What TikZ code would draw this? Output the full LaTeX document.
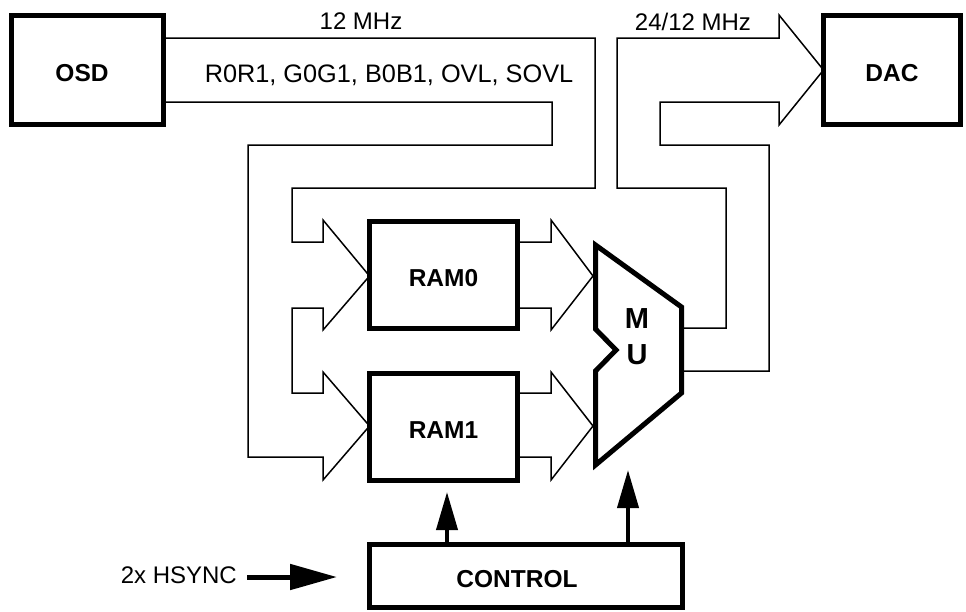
\documentclass[tikz,border=0pt]{standalone}
\usepackage{fontspec}
\setmainfont{Liberation Sans}
\usetikzlibrary{arrows.meta}
\begin{document}
\begin{tikzpicture}[x=1pt,y=-1pt,
  box/.style={draw, line width=5pt, outer sep=0pt, inner sep=0pt,
    font=\fontsize{24.5}{28}\selectfont\bfseries, text height=22pt, text depth=0pt},
  bus/.style={line width=1.5pt, line join=miter},
  lbl/.style={font=\fontsize{24}{28}\selectfont, inner sep=0pt, anchor=base},
  blbl/.style={font=\fontsize{29}{32}\selectfont\bfseries, inner sep=0pt, anchor=base},
  ctrlarrow/.style={line width=4pt, -{Triangle[length=38pt,width=21pt]}},
  muxline/.style={line width=5pt, line join=miter}]
\useasboundingbox (0,0) rectangle (966,611);

% boxes
\node[box, minimum width=152pt, minimum height=109pt] (osd) at (87.5,70) {OSD\hspace*{11pt}};
\node[box, minimum width=137pt, minimum height=109pt] (dac) at (892,70) {DAC};
\node[box, minimum width=148pt, minimum height=107pt] (ram0) at (443.5,275) {RAM0};
\node[box, minimum width=148pt, minimum height=107pt] (ram1) at (443.5,427) {RAM1};
\node[box, minimum width=313pt, minimum height=63pt] (control) at (526,576) {CONTROL\hspace*{18pt}};

% multiplexer
\draw[muxline] (595.5,245) coordinate (muxtl) -- (681.5,307) -- (681.5,393) -- (595.5,465)
  -- (595.5,371) -- (616,350) -- (595.5,329) -- cycle;
\node[blbl] (mlbl) at (637,328) {M};
\node[blbl] (ulbl) at (637,364.5) {U};
\coordinate (mi0) at (593,276);
\coordinate (mi1) at (593,426);
\coordinate (mo0) at (681.5,328);
\coordinate (mo1) at (681.5,371);

% texts
\node[lbl] (f12) at (361,29.5) {12 MHz};
\node[lbl, font=\fontsize{25.3}{28}\selectfont] (sig) at (389,82) {R0R1, G0G1, B0B1, OVL, SOVL};
\node[lbl] (f24) at (693,30) {24/12 MHz};
\node[lbl, anchor=base east] (hsync) at (237,583) {2x HSYNC};

% bus from OSD to RAM0 / RAM1
\draw[bus] (osd.east |- 0,38) -- (595,38) -- (595,188) -- (292,188) -- (292,242)
  -- (323,242) -- (323,220) -- (ram0.west |- 0,276) -- (323,330) -- (323,308)
  -- (292,308) -- (292,393) -- (323,393) -- (323,372) -- (ram1.west |- 0,426)
  -- (323,480) -- (323,457) -- (248,457) -- (248,145) -- (552,145) -- (552,102)
  -- (osd.east |- 0,102);

% RAM outputs to MUX
\draw[bus] (ram0.east |- 0,242) -- (551,242) -- (551,220) -- (mi0) -- (551,330)
  -- (551,308) -- (ram0.east |- 0,308);
\draw[bus] (ram1.east |- 0,393) -- (551,393) -- (551,372) -- (mi1) -- (551,480)
  -- (551,457) -- (ram1.east |- 0,457);

% MUX to DAC
\draw[bus] (mo0) -- (726,328) -- (726,188) -- (617,188) -- (617,38) -- (779,38)
  -- (779,15) -- (dac.west) -- (779,125) -- (779,102) -- (660,102) -- (660,145)
  -- (769,145) -- (769,371) -- (mo1);

% control arrows
\coordinate (c1) at (447,492);
\coordinate (c2) at (628,470);
\draw[ctrlarrow] (control.north -| c1) -- (c1);
\draw[ctrlarrow] (control.north -| c2) -- (c2);

% HSYNC input
\coordinate (hsyncend) at (337,577);
\draw[line width=5pt, -{Triangle[length=47pt,width=25pt]}, shorten <=10pt]
  (hsync.east |- hsyncend) -- (hsyncend);
\end{tikzpicture}
\end{document}
